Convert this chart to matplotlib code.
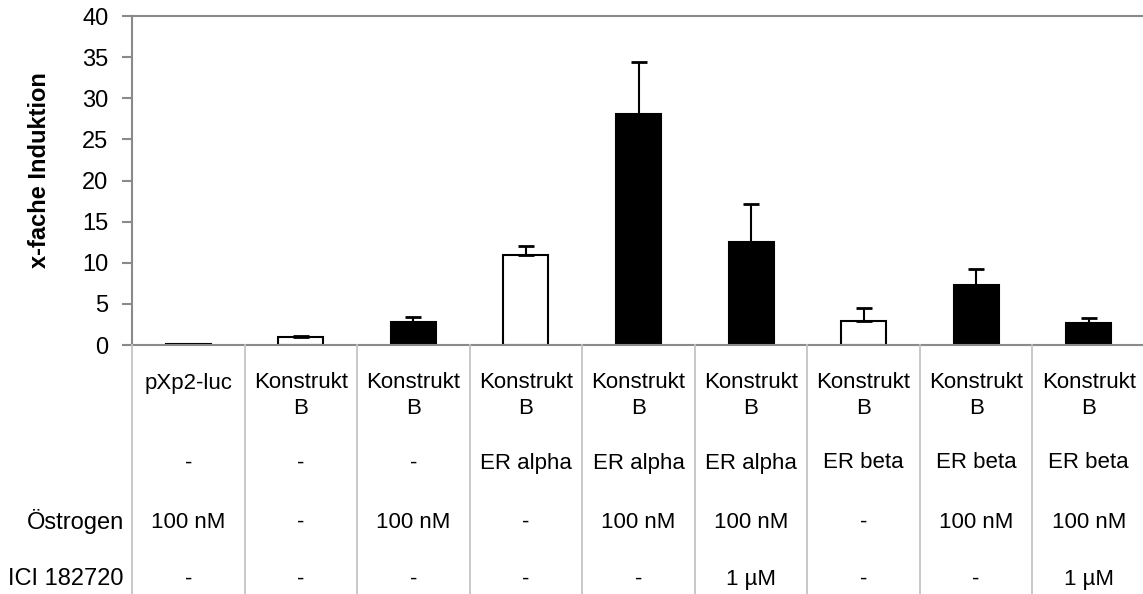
import matplotlib
matplotlib.use("Agg")
import matplotlib.pyplot as plt
from matplotlib.transforms import blended_transform_factory
from matplotlib.lines import Line2D

plt.rcParams["font.family"] = ["Liberation Sans", "DejaVu Sans"]

# Data
konstrukt = ["pXp2-luc", "Konstrukt\nB", "Konstrukt\nB", "Konstrukt\nB", "Konstrukt\nB",
             "Konstrukt\nB", "Konstrukt\nB", "Konstrukt\nB", "Konstrukt\nB"]
rezeptor = ["-", "-", "-", "ER alpha", "ER alpha", "ER alpha", "ER beta", "ER beta", "ER beta"]
oestrogen = ["100 nM", "-", "100 nM", "-", "100 nM", "100 nM", "-", "100 nM", "100 nM"]
ici = ["-", "-", "-", "-", "-", "1 µM", "-", "-", "1 µM"]
row_labels = ["", "", "Östrogen", "ICI 182720"]

induktion = [0.1, 1.0, 2.75, 10.9, 28.1, 12.5, 2.95, 7.35, 2.7]
fehler = [0.0, 0.05, 0.6, 1.1, 6.3, 4.7, 1.6, 1.85, 0.6]

W, H = 1143, 594
fig = plt.figure(figsize=(W / 100, H / 100), dpi=100)
ax = fig.add_axes([132 / W, (H - 345) / H, (1145 - 132) / W, (345 - 16) / H])

x = list(range(len(induktion)))
fills = ["black" if o != "-" else "white" for o in oestrogen]
ax.bar(x, induktion, width=0.4, color=fills, edgecolor="black", linewidth=1.5, zorder=3)
ax.errorbar(x, induktion, yerr=[[0] * len(fehler), fehler], fmt="none", ecolor="black",
            elinewidth=1.5, capsize=6, capthick=2, zorder=4)

ax.set_xlim(-0.5, len(induktion) - 0.5)
ax.set_ylim(0, 40)
ax.set_yticks(range(0, 41, 5))
ax.set_xticks([])
axis_grey = "#8a8a8a"
ax.tick_params(axis="y", direction="out", length=7, width=1.5, color=axis_grey,
               labelsize=17, pad=10)
for side in ("left", "top", "bottom"):
    ax.spines[side].set_color(axis_grey)
    ax.spines[side].set_linewidth(1.5)
ax.spines["right"].set_visible(False)
ax.spines["bottom"].set_zorder(5)

ax.set_ylabel("x-fache Induktion", fontsize=17, fontweight="bold")
ax.yaxis.set_label_coords((51 - 132) / (1145 - 132), (345 - 170) / (345 - 16))

# Table below the bars
tr = blended_transform_factory(ax.transData, fig.transFigure)
def fy(py):
    return (H - py) / H

grid_grey = "#c4c4c4"
for k in range(len(induktion) + 1):
    xl = k - 0.5
    fig.add_artist(Line2D([xl, xl], [fy(H), fy(345)], transform=tr, color=grid_grey,
                          linewidth=1.3, clip_on=False))

rows = [(konstrukt, 383), (rezeptor, 463), (oestrogen, 522), (ici, 579)]
for vals, py in rows:
    for i, v in enumerate(vals):
        for j, line in enumerate(v.split("\n")):
            fig.text(i, fy(py + 25 * j), line, transform=tr, ha="center", va="center",
                     fontsize=16)

for lab, (_, py) in zip(row_labels, rows):
    if lab:
        fig.text(124 / W, fy(py), lab, ha="right", va="center", fontsize=17)

fig.savefig("out.png", dpi=100)
